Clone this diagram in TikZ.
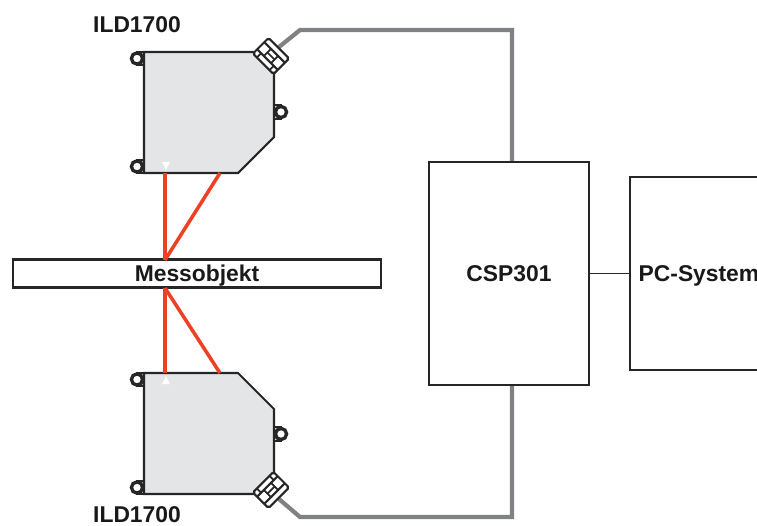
\documentclass[tikz,border=0pt]{standalone}
\usepackage{fontspec}
\setmainfont{Liberation Sans}
\usetikzlibrary{positioning}
\definecolor{gehaeuse}{HTML}{E4E5E7}
\definecolor{laser}{HTML}{EE4023}
\definecolor{kabelgrau}{HTML}{808184}

\begin{document}
\begin{tikzpicture}[
        x=0.02cm,
        y=-0.02cm,
        node distance=0.82cm,
        block/.style={
            rectangle,
            draw=black!85,
            line width=0.9pt,
            fill=white,
            outer sep=0pt,
            inner sep=0pt,
            text=black!90,
            text height=9.2pt,
            text depth=0pt,
            font=\fontsize{13}{15}\selectfont\bfseries,
            align=center
        },
        titel/.style={font=\fontsize{13}{15}\selectfont\bfseries, text=black!90},
        strahl/.style={draw=laser, line width=2pt},
        kabel/.style={draw=kabelgrau, line width=2.4pt},
        linie/.style={draw=black!85, line width=1.2pt},
        sensor/.pic={
            % Oesen
            \draw[linie, fill=white, line width=1pt] (-7,0) rectangle (0,13);
            \draw[linie, fill=white, line width=1pt] (-7,108) rectangle (0,121);
            \draw[linie, fill=white, line width=1pt] (130,53) rectangle (137,67);
            \foreach \ox/\oy in {-7/6.5, -7/114.5, 137/60} {
                \draw[linie, fill=white, line width=1.9pt] (\ox,\oy) circle (5.6);
            }
            % Gehaeuse
            \draw[linie, fill=gehaeuse]
                (0,0) -- (109,0) -- (130,21) -- (130,85) -- (94,121) -- (0,121) -- cycle;
            \fill[white] (18,110) -- (26,110) -- (22,118) -- cycle;
            \coordinate (-strahlA) at (21,121);
            \coordinate (-strahlB) at (76,121);
            % Stecker
            \begin{scope}[shift={(127,4)}, rotate=-45]
                \draw[linie, fill=white, rounded corners=1pt] (-14.5,-11) rectangle (14.5,11);
                \draw[linie] (-14.5,-5) -- (14.5,-5);
                \draw[linie] (-14.5,5) -- (14.5,5);
                \foreach \sx/\sa/\sb in {-5/-5/5, 5/-5/5, -9/5/11, 9/5/11} {
                    \draw[linie, line width=1pt] (\sx,\sa) -- (\sx,\sb);
                }
                \draw[linie, line width=1pt] (-5,0) -- (5,0);
            \end{scope}
        }
    ]

    \useasboundingbox (0,0) rectangle (757,525);

    \coordinate (messA) at (165,260);
    \coordinate (messB) at (165,288);
    \coordinate (kabelA) at (279,47);
    \coordinate (kabelB) at (279,499);
    \coordinate (knickA) at (300,30);
    \coordinate (knickB) at (300,517);
    \coordinate (anschlussA) at (512,162);
    \coordinate (anschlussB) at (512,385);

    \draw[kabel] (kabelA) -- (knickA) -| (anschlussA);
    \draw[kabel] (kabelB) -- (knickB) -| (anschlussB);

    \pic (oben) at (144,52) {sensor};
    \pic[yscale=-1] (unten) at (144,494) {sensor};

    \node[block, line width=1.2pt, minimum width=7.36cm, minimum height=0.56cm] (messobjekt) at (197,273.5) {Messobjekt};
    \node[block, minimum width=3.2cm, minimum height=4.46cm] (csp) at (509,273.5) {CSP301};
    \node[block, minimum width=2.76cm, minimum height=3.86cm, right=of csp] (pc) {PC-System};

    \node[titel] (ildA) at (137,25) {ILD1700};
    \node[titel] (ildB) at (137,515) {ILD1700};

    \draw[strahl] (oben-strahlA) -- (messA);
    \draw[strahl] (oben-strahlB) -- (messA);
    \draw[strahl] (unten-strahlA) -- (messB);
    \draw[strahl] (unten-strahlB) -- (messB);

    \draw[linie, line width=0.9pt] (csp) -- (pc);

\end{tikzpicture}
\end{document}
